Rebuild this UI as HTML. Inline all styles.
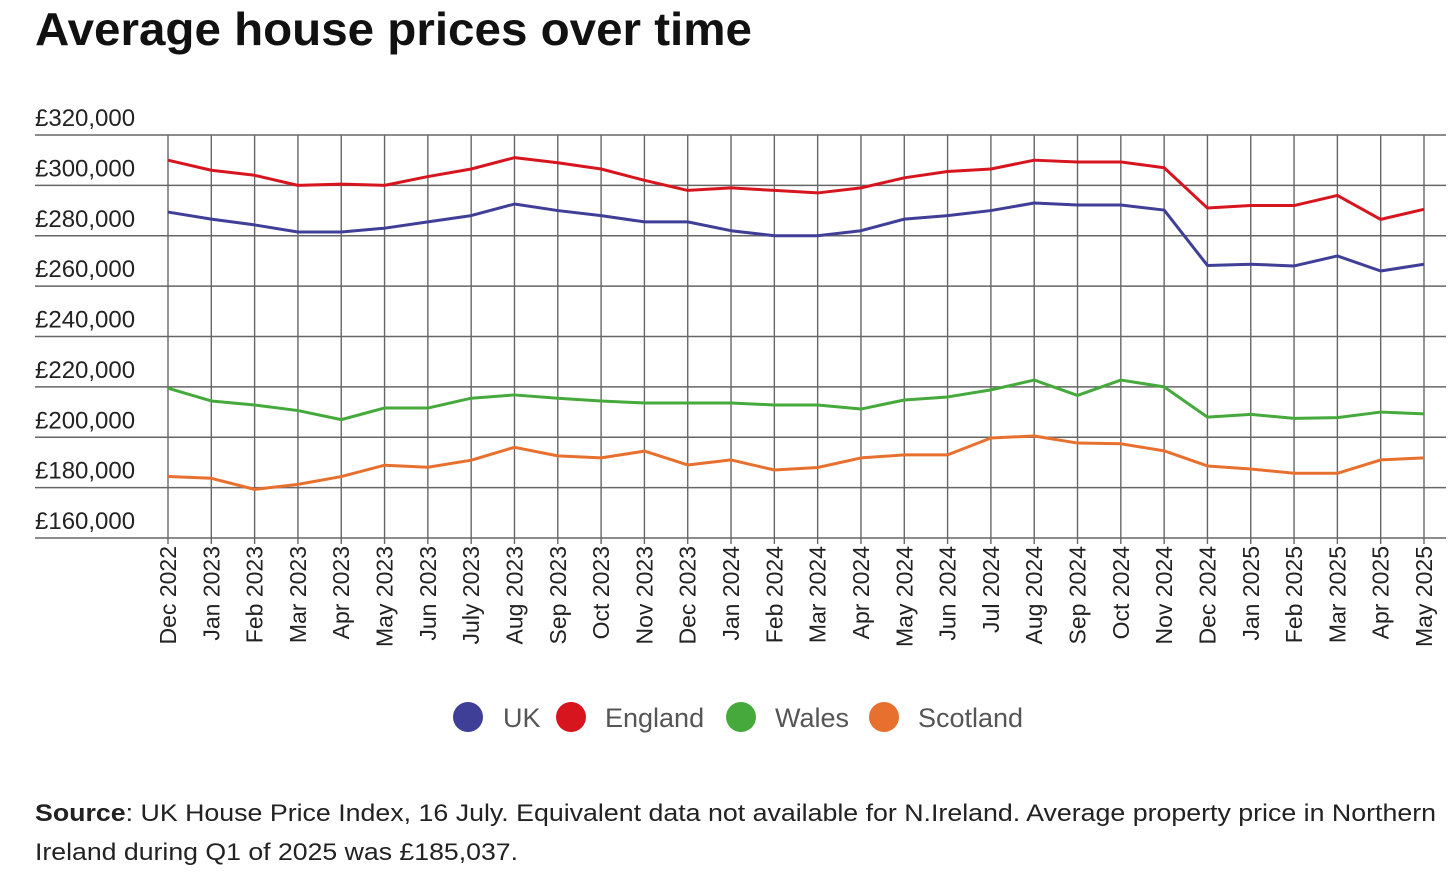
<!DOCTYPE html>
<html><head><meta charset="utf-8"><style>
html,body{margin:0;padding:0;background:#fff;}
svg{display:block;font-family:"Liberation Sans",sans-serif;}
</style></head><body>
<svg id="c" width="1456" height="884" viewBox="0 0 1456 884">
<text x="35" y="45" font-size="46" font-weight="bold" fill="#111" textLength="717" lengthAdjust="spacingAndGlyphs">Average house prices over time</text>
<g id="grid"></g><g id="series"></g><g id="labels"></g>
<g>
<g><circle cx="468" cy="717" r="15" fill="#3f3f98"/><text x="503" y="727" font-size="27" fill="#555">UK</text></g>
<g><circle cx="571" cy="717" r="15" fill="#d7151f"/><text x="605" y="727" font-size="27" fill="#555">England</text></g>
<g><circle cx="741" cy="717" r="15" fill="#45a93c"/><text x="775" y="727" font-size="27" fill="#555">Wales</text></g>
<g><circle cx="884" cy="717" r="15" fill="#e8702f"/><text x="918" y="727" font-size="27" fill="#555">Scotland</text></g>
</g>
<text x="35" y="821" font-size="24" fill="#222" textLength="1401" lengthAdjust="spacingAndGlyphs"><tspan font-weight="bold">Source</tspan>: UK House Price Index, 16 July. Equivalent data not available for N.Ireland. Average property price in Northern</text>
<text x="35" y="860" font-size="24" fill="#222" textLength="483" lengthAdjust="spacingAndGlyphs">Ireland during Q1 of 2025 was £185,037.</text>
</svg>
<script>
const categories=["Dec 2022","Jan 2023","Feb 2023","Mar 2023","Apr 2023","May 2023","Jun 2023","July 2023","Aug 2023","Sep 2023","Oct 2023","Nov 2023","Dec 2023","Jan 2024","Feb 2024","Mar 2024","Apr 2024","May 2024","Jun 2024","Jul 2024","Aug 2024","Sep 2024","Oct 2024","Nov 2024","Dec 2024","Jan 2025","Feb 2025","Mar 2025","Apr 2025","May 2025"];
const ukValues=[289400,286600,284300,281500,281500,283000,285500,288000,292600,290000,288000,285500,285500,282000,280000,280000,282000,286600,288000,290000,293000,292200,292200,290200,268200,268700,268000,272000,266000,268700];
const englandValues=[310000,306000,304000,300000,300500,300000,303500,306500,311000,309000,306500,302000,298000,299000,298000,297000,299000,303000,305500,306500,310000,309300,309300,307000,291000,292000,292000,296000,286500,290500];
const walesValues=[219500,214400,212800,210600,207000,211600,211600,215500,216800,215500,214400,213600,213600,213600,212800,212800,211200,214800,216000,218800,222700,216600,222700,220000,208000,209100,207500,207800,210000,209300];
const scotlandValues=[184400,183700,179300,181300,184400,188900,188100,190900,196000,192600,191800,194500,189000,191000,187000,188000,191800,193000,193000,199700,200500,197700,197400,194600,188600,187400,185700,185700,191000,191800];
const yTicks=[160000,180000,200000,220000,240000,260000,280000,300000,320000];
const yTickLabels=["£160,000","£180,000","£200,000","£220,000","£240,000","£260,000","£280,000","£300,000","£320,000"];
const NS="http://www.w3.org/2000/svg";
const x0=168,x1=1424,yTop=135,yBot=538,vMin=160000,vMax=320000;
function xs(i){return x0+(x1-x0)*i/(categories.length-1);}
function ys(v){return yBot-(v-vMin)/(vMax-vMin)*(yBot-yTop);}
function mk(tag,attrs,parent){const e=document.createElementNS(NS,tag);for(const k in attrs)e.setAttribute(k,attrs[k]);parent.appendChild(e);return e;}
const grid=document.getElementById('grid'),labels=document.getElementById('labels'),series=document.getElementById('series');
yTicks.forEach((v,i)=>{
 const l=mk('line',{x1:35,x2:1446,y1:ys(v),y2:ys(v),stroke:'#666','stroke-width':1.4},grid);
 
 
 const t=mk('text',{x:35,y:ys(v)-9,'font-size':24,fill:'#222'},labels);
 t.textContent=yTickLabels[i];
 
 
});
categories.forEach((c,i)=>{
 const l=mk('line',{x1:xs(i),x2:xs(i),y1:yTop,y2:yBot+6,stroke:'#666','stroke-width':1.4},grid);
 
 
 const t=mk('text',{x:0,y:0,'font-size':23,fill:'#222','text-anchor':'end',transform:`translate(${xs(i)+8},546) rotate(-90)`},labels);
 t.textContent=c;
 
 
});
[[ukValues,'#3f3f98','uk-line'],[englandValues,'#d7151f','england-line'],[walesValues,'#45a93c','wales-line'],[scotlandValues,'#e8702f','scotland-line']].forEach(([vals,col,name])=>{
 const p=mk('polyline',{points:vals.map((v,i)=>xs(i)+','+ys(v)).join(' '),fill:'none',stroke:col,'stroke-width':3,'stroke-linejoin':'round'},series);
 
 
});
</script>
</body></html>
